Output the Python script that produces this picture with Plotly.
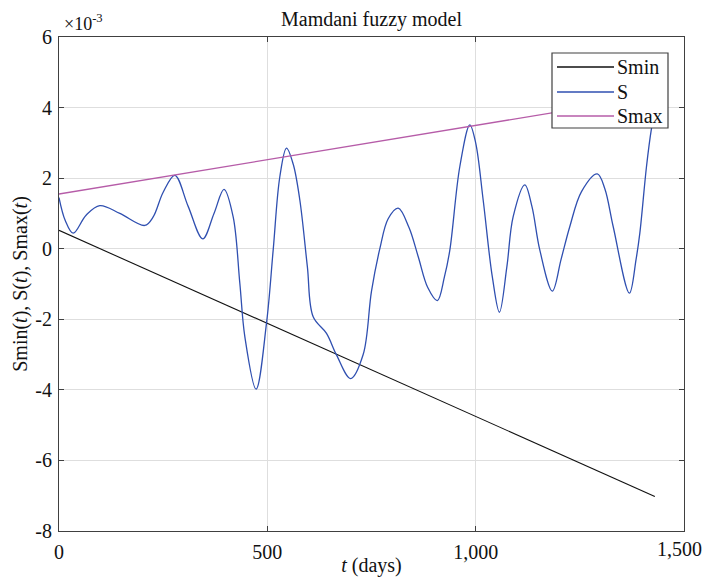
import plotly.graph_objects as go

SCALE = 1e-3

t_S = [0, 15, 34, 65, 98, 146, 206, 226, 250, 278, 310, 345, 372, 396, 418, 434, 446, 473,
       498, 514, 530, 546, 562, 578, 596, 610, 642, 666, 700, 730, 750, 770, 790, 814, 840,
       862, 885, 908, 925, 938, 962, 986, 1000, 1018, 1040, 1057, 1075, 1090, 1118, 1135,
       1154, 1184, 1205, 1226, 1254, 1292, 1310, 1330, 1369, 1385, 1394, 1410, 1422, 1430]
S_vals = [1.45, 0.8, 0.44, 0.95, 1.22, 1.0, 0.66, 0.9, 1.6, 2.08, 1.2, 0.28, 1.0, 1.68, 0.9,
          -0.98, -2.49, -3.98, -2.11, -0.04, 2.04, 2.85, 2.4, 1.38, -0.5, -1.93, -2.4, -3.01,
          -3.68, -3.0, -1.2, 0.0, 0.85, 1.15, 0.6, -0.22, -1.1, -1.47, -0.8, -0.04, 2.33, 3.51,
          3.0, 1.38, -0.8, -1.8, -0.5, 0.91, 1.81, 1.2, -0.04, -1.2, -0.3, 0.63, 1.62, 2.12,
          1.7, 0.63, -1.26, -0.3, 0.44, 2.33, 3.41, 3.9]

t_line = [0, 1430]
Smin_vals = [0.52, -7.02]
Smax_vals = [1.55, 4.33]

series_names = ["Smin", "S", "Smax"]
series_colors = ["#111111", "#2f4fb0", "#b65ca8"]

x_ticks = [0, 500, 1000, 1500]
x_ticktext = ["0", "500", "1,000", "1,500"]
y_ticks = [-8, -6, -4, -2, 0, 2, 4, 6]
y_ticktext = ["-8", "-6", "-4", "-2", "0", "2", "4", "6"]

FONT = "Liberation Serif"
W, H = 704, 577
L, R, T, B = 59, 20, 37, 46
PW, PH = W - L - R, H - T - B


def px(x):
    return (x - L) / PW


def py(y):
    return (H - B - y) / PH


fig = go.Figure()
fig.add_trace(go.Scatter(x=t_line, y=[v * SCALE for v in Smin_vals], mode="lines",
                         name=series_names[0], line=dict(color=series_colors[0], width=1.1)))
fig.add_trace(go.Scatter(x=t_S, y=[v * SCALE for v in S_vals], mode="lines",
                         name=series_names[1],
                         line=dict(color=series_colors[1], width=1.3, shape="spline", smoothing=1.0)))
fig.add_trace(go.Scatter(x=t_line, y=[v * SCALE for v in Smax_vals], mode="lines",
                         name=series_names[2], line=dict(color=series_colors[2], width=1.3)))

axis_common = dict(showgrid=True, gridcolor="#dedede", gridwidth=1, zeroline=False,
                   showline=True, linecolor="#404040", linewidth=1.2, mirror="ticks",
                   ticks="inside", ticklen=5, tickcolor="#404040",
                   ticklabeloverflow="allow", automargin=False,
                   tickfont=dict(family=FONT, size=20, color="#111111"))

# The last x tick label sits at the page edge; it is drawn as an annotation
# shifted left so it stays inside the page (as MATLAB does).
shown_ticktext = x_ticktext[:-1] + [""]

fig.update_layout(
    width=W, height=H,
    margin=dict(l=L, r=R, t=T, b=B, autoexpand=False),
    paper_bgcolor="white", plot_bgcolor="white",
    font=dict(family=FONT, size=20, color="#111111"),
    title=dict(text="Mamdani fuzzy model", x=0.5, xref="paper", y=1 - 19 / H,
               yref="container", yanchor="middle", xanchor="center",
               font=dict(family=FONT, size=20, color="#111111")),
    xaxis=dict(range=[0, 1500], tickvals=x_ticks, ticktext=shown_ticktext,
               ticklabelstandoff=3,
               title=dict(text="<i>t</i> (days)", standoff=0,
                          font=dict(family=FONT, size=20, color="#111111")),
               **axis_common),
    yaxis=dict(range=[-8 * SCALE, 6 * SCALE], tickvals=[v * SCALE for v in y_ticks],
               ticktext=y_ticktext, ticklabelstandoff=2,
               title=dict(text="Smin(<i>t</i>), S(<i>t</i>), Smax(<i>t</i>)", standoff=2,
                          font=dict(family=FONT, size=20, color="#111111")),
               **axis_common),
    showlegend=False,
)

fig.add_annotation(text=x_ticktext[-1], xref="x", yref="paper", x=x_ticks[-1], y=py(549),
                   xanchor="right", yanchor="middle", xshift=19, showarrow=False,
                   borderpad=0,
                   font=dict(family=FONT, size=20, color="#111111"))

# Exponent label
fig.add_annotation(text="×10<sup>-3</sup>", xref="paper", yref="paper", x=px(62), y=py(36),
                   xanchor="left", yanchor="bottom", showarrow=False,
                   font=dict(family=FONT, size=18, color="#111111"))

# Legend (MATLAB style: long line samples)
box = dict(x0=552, x1=668, y0=53, y1=128)
fig.add_shape(type="rect", xref="paper", yref="paper",
              x0=px(box["x0"]), x1=px(box["x1"]), y0=py(box["y1"]), y1=py(box["y0"]),
              line=dict(color="#404040", width=1.2), fillcolor="white", layer="above")
row_y = [67, 92, 116]
for name, color, ry in zip(series_names, series_colors, row_y):
    fig.add_shape(type="line", xref="paper", yref="paper",
                  x0=px(557), x1=px(614), y0=py(ry), y1=py(ry),
                  line=dict(color=color, width=1.3), layer="above")
    fig.add_annotation(text=name, xref="paper", yref="paper", x=px(615), y=py(ry),
                       xanchor="left", yanchor="middle", showarrow=False,
                       font=dict(family=FONT, size=20, color="#111111"))

fig.write_html("out.html")
